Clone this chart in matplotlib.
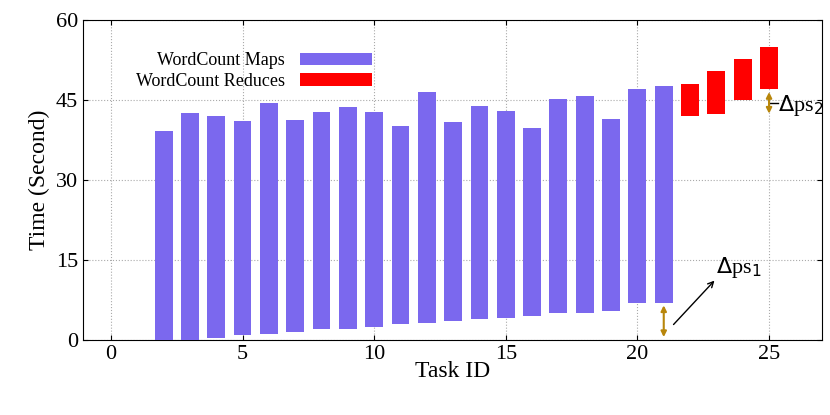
import matplotlib
matplotlib.use("Agg")
import matplotlib.pyplot as plt

plt.rcParams['font.family'] = ['Liberation Serif', 'DejaVu Serif']

map_ids = list(range(2, 22))
map_start = [0, 0, 0.4, 1, 1.1, 1.4, 2, 2.1, 2.4, 3, 3.2, 3.5, 4, 4.1, 4.4, 5, 5.1, 5.4, 7, 7]
map_end = [39.2, 42.5, 41.9, 41, 44.5, 41.3, 42.8, 43.6, 42.8, 40.2, 46.5, 40.8, 43.8, 43, 39.8, 45.2, 45.8, 41.5, 47, 47.7]
red_ids = [22, 23, 24, 25]
red_start = [41.9, 42.4, 45, 47]
red_end = [48, 50.5, 52.7, 55]

fig = plt.figure(figsize=(8.3, 4.15), dpi=100)
ax = fig.add_axes([0.1, 0.181, 0.89, 0.771])
w = 0.68
ax.bar(map_ids, [e - s for s, e in zip(map_start, map_end)], bottom=map_start, width=w,
       color='#7b68ee', label='WordCount Maps', zorder=3)
ax.bar(red_ids, [e - s for s, e in zip(red_start, red_end)], bottom=red_start, width=w,
       color='#ff0000', label='WordCount Reduces', zorder=3)

gold = '#b8860b'
ax.annotate('', xy=(21, 0), xytext=(21, map_start[-1]),
            arrowprops=dict(arrowstyle='<|-|>', color=gold, lw=1.5, mutation_scale=8), zorder=4)
ax.annotate('', xy=(25, red_start[0]), xytext=(25, red_start[-1]),
            arrowprops=dict(arrowstyle='<|-|>', color=gold, lw=1.5, mutation_scale=8), zorder=4)
ax.annotate('', xy=(23.0, 11.5), xytext=(21.3, 2.5),
            arrowprops=dict(arrowstyle='->', color='black', lw=1))
ax.text(23.0, 12.5, r'$\Delta$ps$_1$', fontsize=16)
ax.plot([25.05, 25.35], [44.5, 44.5], color='black', lw=1)
ax.text(25.35, 43, r'$\Delta$ps$_2$', fontsize=16)

ax.set_xlim(-1.06, 27)
ax.set_ylim(0, 60)
ax.set_xticks([0, 5, 10, 15, 20, 25])
ax.set_yticks([0, 15, 30, 45, 60])
ax.tick_params(labelsize=16, direction='in', top=True, right=True)
ax.set_xlabel('Task ID', fontsize=17, labelpad=-2)
ax.set_ylabel('Time (Second)', fontsize=17)
ax.grid(True, linestyle=':', color='#aaaaaa', lw=0.8, zorder=0)
leg = ax.legend(loc='upper left', bbox_to_anchor=(0.05, 0.95), frameon=False, fontsize=13,
                markerfirst=False, handlelength=4, labelspacing=0.2)
fig.savefig('out.png', dpi=100)
